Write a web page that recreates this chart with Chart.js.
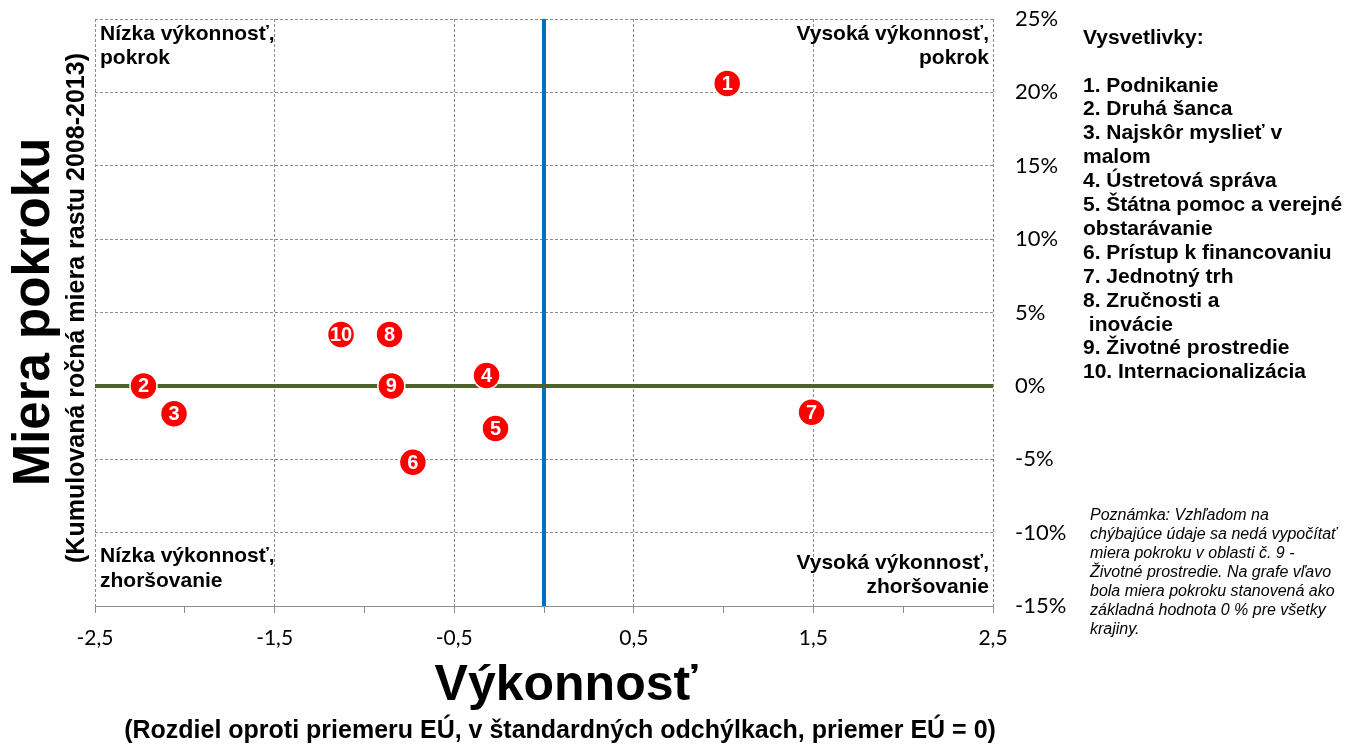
<!DOCTYPE html>
<html lang="sk">
<head>
  <meta charset="UTF-8" />
  <title>Výkonnosť a miera pokroku</title>
  <script src="https://cdn.jsdelivr.net/npm/chart.js"></script>
  <style>
    body { margin: 0; background: #fff; }
    #wrap { width: 1366px; height: 747px; }
  </style>
</head>
<body>
  <div id="wrap"><canvas id="chart" width="1366" height="747"></canvas></div>

  <script>
    // data
    const areaIds = ['1', '2', '3', '4', '5', '6', '7', '8', '9', '10'];
    const performance = [1.02, -2.23, -2.06, -0.32, -0.27, -0.73, 1.49, -0.86, -0.85, -1.13];
    const progress = [20.6, 0, -1.9, 0.7, -2.9, -5.2, -1.8, 3.5, 0, 3.5];
    const xTicks = [-2.5, -1.5, -0.5, 0.5, 1.5, 2.5];
    const yTicks = [-15, -10, -5, 0, 5, 10, 15, 20, 25];

    const legendLines = [
      'Vysvetlivky:', '',
      '1. Podnikanie', '2. Druhá šanca', '3. Najskôr myslieť v', 'malom',
      '4. Ústretová správa', '5. Štátna pomoc a verejné', 'obstarávanie',
      '6. Prístup k financovaniu', '7. Jednotný trh', '8. Zručnosti a',
      ' inovácie', '9. Životné prostredie', '10. Internacionalizácia'
    ];
    const noteLines = [
      'Poznámka: Vzhľadom na', 'chýbajúce údaje sa nedá vypočítať',
      'miera pokroku v oblasti č. 9 -', 'Životné prostredie. Na grafe vľavo',
      'bola miera pokroku stanovená ako', 'základná hodnota 0 % pre všetky', 'krajiny.'
    ];

    const points = performance.map((x, i) => ({ x: x, y: progress[i] }));
    const isLabelled = v => xTicks.some(t => Math.abs(t - v) < 1e-6);

    // white numbers inside the red bubbles
    const bubbleLabels = {
      id: 'bubbleLabels',
      afterDatasetsDraw(chart) {
        const ctx = chart.ctx;
        const meta = chart.getDatasetMeta(0);
        ctx.save();
        ctx.fillStyle = '#fff';
        ctx.font = 'bold 20px "Liberation Sans", Arial, sans-serif';
        ctx.textAlign = 'center';
        ctx.textBaseline = 'middle';
        meta.data.forEach((pt, i) => {
          ctx.fillText(areaIds[i], pt.x, pt.y + 1);
        });
        ctx.restore();
      }
    };

    // titles, quadrant captions, legend and note
    const textLayer = {
      id: 'textLayer',
      afterDraw(chart) {
        const ctx = chart.ctx;
        const a = chart.chartArea;
        const bold = 'bold 21px "Liberation Sans", Arial, sans-serif';
        ctx.save();
        ctx.fillStyle = '#000';
        ctx.textBaseline = 'middle';

        // quadrant captions
        ctx.font = bold;
        ctx.textAlign = 'left';
        ctx.fillText('Nízka výkonnosť,', a.left + 5, a.top + 15);
        ctx.fillText('pokrok', a.left + 5, a.top + 39);
        ctx.fillText('Nízka výkonnosť,', a.left + 5, a.bottom - 50);
        ctx.fillText('zhoršovanie', a.left + 5, a.bottom - 25);
        ctx.textAlign = 'right';
        ctx.fillText('Vysoká výkonnosť,', a.right - 4, a.top + 15);
        ctx.fillText('pokrok', a.right - 4, a.top + 39);
        ctx.fillText('Vysoká výkonnosť,', a.right - 4, a.bottom - 43);
        ctx.fillText('zhoršovanie', a.right - 4, a.bottom - 19);

        // x titles
        ctx.textAlign = 'center';
        ctx.font = 'bold 50px "Liberation Sans", Arial, sans-serif';
        ctx.fillText('Výkonnosť', 566, 686);
        ctx.font = 'bold 25px "Liberation Sans", Arial, sans-serif';
        ctx.fillText('(Rozdiel oproti priemeru EÚ, v štandardných odchýlkach, priemer EÚ = 0)', 560, 731);

        // y titles, rotated
        ctx.save();
        ctx.translate(35, 312);
        ctx.rotate(-Math.PI / 2);
        ctx.font = 'bold 51px "Liberation Sans", Arial, sans-serif';
        ctx.fillText('Miera pokroku', 0, 0);
        ctx.restore();
        ctx.save();
        ctx.translate(77, 308);
        ctx.rotate(-Math.PI / 2);
        ctx.font = 'bold 25px "Liberation Sans", Arial, sans-serif';
        ctx.fillText('(Kumulovaná ročná miera rastu 2008-2013)', 0, 0);
        ctx.restore();

        // legend
        ctx.textAlign = 'left';
        ctx.font = bold;
        legendLines.forEach((s, i) => ctx.fillText(s, 1083, 38 + i * 23.9));

        // note
        ctx.font = 'italic 16px "Liberation Sans", Arial, sans-serif';
        noteLines.forEach((s, i) => ctx.fillText(s, 1090, 516 + i * 19));
        ctx.restore();
      }
    };

    new Chart(document.getElementById('chart'), {
      type: 'scatter',
      data: {
        datasets: [
          {
            label: 'Oblasti',
            data: points,
            backgroundColor: '#ff0000',
            borderColor: '#ffffff',
            borderWidth: 1.5,
            pointRadius: 13.5,
            pointHoverRadius: 13.5,
            order: 0
          },
          {
            type: 'line',
            label: 'Priemer EÚ',
            data: [{ x: 0, y: yTicks[0] }, { x: 0, y: yTicks[yTicks.length - 1] }],
            borderColor: '#0070c0',
            borderWidth: 4,
            pointRadius: 0,
            order: 2
          },
          {
            type: 'line',
            label: 'Nulový rast',
            data: [{ x: xTicks[0], y: 0 }, { x: xTicks[xTicks.length - 1], y: 0 }],
            borderColor: '#4f6228',
            borderWidth: 4,
            pointRadius: 0,
            order: 1
          }
        ]
      },
      options: {
        responsive: false,
        animation: false,
        layout: { autoPadding: false, padding: { left: 95, top: 19, right: 293, bottom: 0 } },
        plugins: {
          legend: { display: false },
          tooltip: { enabled: false }
        },
        scales: {
          x: {
            type: 'linear',
            min: xTicks[0],
            max: xTicks[xTicks.length - 1],
            afterFit: s => { s.height = 141; s.paddingLeft = 0; s.paddingRight = 0; },
            ticks: {
              stepSize: 0.5,
              autoSkip: false,
              maxRotation: 0,
              padding: 13,
              color: '#000',
              font: { family: 'Lato', size: 21 },
              callback: v => isLabelled(v) ? String(v).replace('.', ',') : ''
            },
            grid: {
              color: c => isLabelled(c.tick.value) ? '#8c8c8c' : 'rgba(0,0,0,0)',
              tickColor: '#8c8c8c',
              tickLength: 7,
              lineWidth: 1
            },
            border: { display: true, color: '#8c8c8c', width: 1, dash: [3, 2] }
          },
          y: {
            type: 'linear',
            position: 'right',
            min: yTicks[0],
            max: yTicks[yTicks.length - 1],
            afterFit: s => { s.width = 80; s.paddingTop = 0; s.paddingBottom = 0; },
            afterBuildTicks: s => { s.ticks = yTicks.map(v => ({ value: v })); },
            ticks: {
              padding: 22,
              color: '#000',
              font: { family: 'Lato', size: 22 },
              callback: v => v + '%'
            },
            grid: { color: '#8c8c8c', drawTicks: false, lineWidth: 1 },
            border: { display: false, dash: [3, 2] }
          }
        }
      },
      plugins: [bubbleLabels, textLayer]
    });
  </script>
</body>
</html>
